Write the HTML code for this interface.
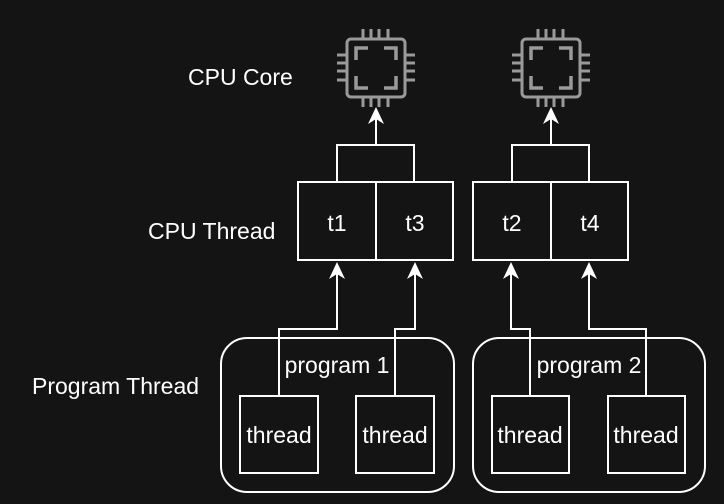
<!DOCTYPE html>
<html><head><meta charset="utf-8"><style>
html,body{margin:0;padding:0;background:#141414;}
svg{display:block}
text{font-family:"Liberation Sans",sans-serif;fill:#fff;font-size:23px}
</style></head><body>
<svg width="724" height="504" viewBox="0 0 724 504" xmlns="http://www.w3.org/2000/svg">
<rect width="724" height="504" fill="#141414"/>
<defs>
<g id="chip" fill="none" stroke="#9a9a9a" stroke-width="3">
<rect x="0" y="0" width="58" height="58" rx="4"/>
<path d="M16,-10V0M24,-10V0M32,-10V0M41,-10V0M16,58V68M24,58V68M32,58V68M41,58V68M-10,16H0M-10,24H0M-10,32H0M-10,41H0M58,16H68M58,24H68M58,32H68M58,41H68"/>
<path d="M9,21V9H21M37,9H49V21M49,37V49H37M21,49H9V37" stroke-width="3.5"/>
</g>
<g id="grp" fill="none" stroke="#fff" stroke-width="2">
<path d="M78,145V118"/>
<polygon points="78,107 70,124 78,119 86,124" fill="#fff" stroke="none"/>
<path d="M39,182V145H116V182"/>
<rect x="0" y="182" width="155" height="78"/>
<path d="M78,182V260"/>
</g>
</defs>
<use href="#chip" x="347" y="39"/>
<use href="#chip" x="522" y="39"/>
<use href="#grp" x="298" y="0"/>
<use href="#grp" x="473" y="0"/>
<text x="337" y="231" text-anchor="middle">t1</text>
<text x="415" y="231" text-anchor="middle">t3</text>
<text x="512" y="231" text-anchor="middle">t2</text>
<text x="590" y="231" text-anchor="middle">t4</text>
<g fill="none" stroke="#fff" stroke-width="2">
<rect x="221" y="338" width="233" height="154" rx="26"/>
<rect x="473" y="338" width="232" height="154" rx="26"/>
<rect x="240" y="396" width="78" height="77"/>
<rect x="356" y="396" width="78" height="77"/>
<rect x="492" y="396" width="77" height="77"/>
<rect x="608" y="396" width="77" height="77"/>
<path d="M279,396V329H337V274M395,396V329H415V274M530,396V329H511V274M646,396V329H589V274"/>
</g>
<g fill="#fff">
<polygon points="337,262 329,279 337,274 345,279"/>
<polygon points="415,262 407,279 415,274 423,279"/>
<polygon points="511,262 503,279 511,274 519,279"/>
<polygon points="589,262 581,279 589,274 597,279"/>
</g>
<text x="337" y="373" text-anchor="middle">program 1</text>
<text x="589" y="373" text-anchor="middle">program 2</text>
<text x="279" y="443" text-anchor="middle">thread</text>
<text x="395" y="443" text-anchor="middle">thread</text>
<text x="530" y="443" text-anchor="middle">thread</text>
<text x="646" y="443" text-anchor="middle">thread</text>
<text x="188" y="85">CPU Core</text>
<text x="148" y="239">CPU Thread</text>
<text x="32" y="394">Program Thread</text>
</svg>
</body></html>
